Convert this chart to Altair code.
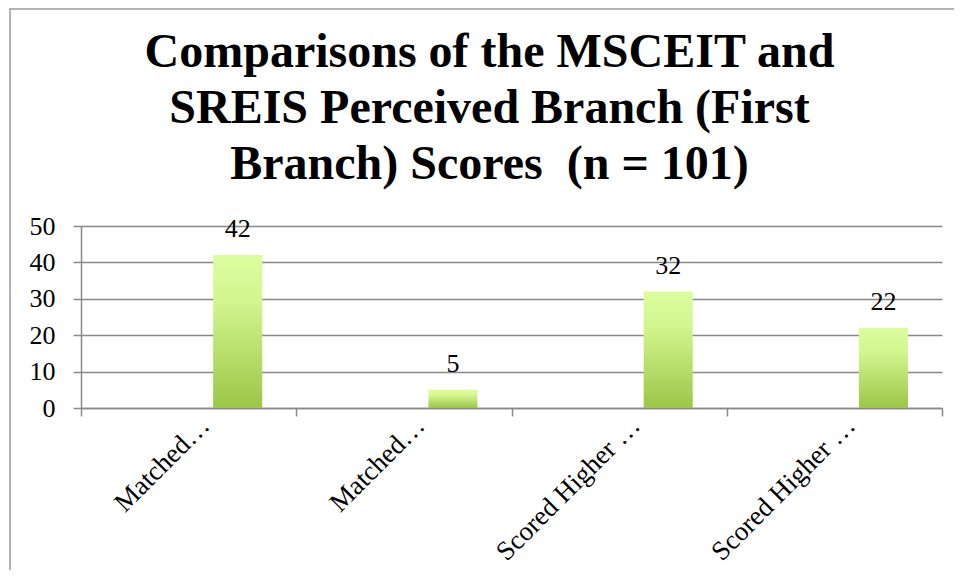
import json
import altair as alt
import pandas as pd

# ---- data ----
labels = ["Matched…", "Matched…", "Scored Higher …", "Scored Higher …"]
counts = [42, 5, 32, 22]
series_names = ["s1", "s2", "s3"]  # Excel-style cluster; only the 3rd series carries values
title_lines = ["Comparisons of the MSCEIT and", "SREIS Perceived Branch (First", "Branch) Scores\u00a0 (n = 101)"]

df = pd.DataFrame({
    "idx": list(range(len(labels))),
    "label": labels,
    "count": counts,
    "series": ["s3"] * len(labels),
})

label_expr = json.dumps(labels, ensure_ascii=False) + "[datum.value]"

SERIF = "Liberation Serif"
GRID = "#898989"

gradient = {
    "gradient": "linear",
    "x1": 0, "y1": 0, "x2": 0, "y2": 1,
    "stops": [
        {"offset": 0, "color": "#dcfd9e"},
        {"offset": 0.3, "color": "#d3f58f"},
        {"offset": 1, "color": "#9bc647"},
    ],
}

x_enc = alt.X(
    "idx:O",
    scale=alt.Scale(paddingInner=0, paddingOuter=0),
    axis=alt.Axis(
        title=None,
        labelExpr=label_expr,
        labelAngle=-45,
        labelAlign="right",
        labelBaseline="top",
        labelFont=SERIF,
        labelFontSize=27,
        labelColor="#000000",
        labelPadding=-4,
        labelOffset=7,
        labelLimit=0,
        tickBand="extent",
        tickSize=8,
        tickColor=GRID,
        tickWidth=1.5,
        domainColor=GRID,
        domainWidth=1.5,
        grid=False,
    ),
)
xoff_enc = alt.XOffset(
    "series:N",
    scale=alt.Scale(domain=series_names, paddingInner=0, paddingOuter=0.694),
)
y_enc = alt.Y(
    "count:Q",
    scale=alt.Scale(domain=[0, 50], nice=False),
    axis=alt.Axis(
        title=None,
        values=[0, 10, 20, 30, 40, 50],
        labelFont=SERIF,
        labelFontSize=26,
        labelColor="#000000",
        labelPadding=18,
        tickSize=8,
        tickColor=GRID,
        tickWidth=1.5,
        domainColor=GRID,
        domainWidth=1.5,
        grid=True,
        gridColor=GRID,
        gridWidth=1.5,
    ),
)

bars = alt.Chart(df).mark_bar(color=gradient).encode(
    x=x_enc, xOffset=xoff_enc, y=y_enc
)

text = alt.Chart(df).mark_text(
    font=SERIF, fontSize=26, baseline="alphabetic", dy=-18, color="#000000"
).encode(x=x_enc, xOffset=xoff_enc, y=y_enc, text="count:Q")

frame = alt.Chart(pd.DataFrame({"f": [0]})).mark_rect(
    fill=None, stroke="#999999", strokeWidth=1.5
).encode(
    x=alt.value(-71), x2=alt.value(960), y=alt.value(-217), y2=alt.value(500)
)

chart = alt.layer(frame, bars, text).properties(
    width=861,
    height=182,
    padding={"left": 73, "top": 218, "right": 12, "bottom": 162},
    autosize=alt.AutoSizeParams(type="none"),
    title=alt.TitleParams(
        text=title_lines,
        font=SERIF,
        fontSize=48,
        fontWeight="bold",
        color="#000000",
        anchor="middle",
        frame="group",
        baseline="bottom",
        lineHeight=56,
        dx=-22,
        offset=-229,
    ),
).configure_view(stroke=None)

chart.save("out.html", embed_options={"renderer": "svg", "actions": False})
